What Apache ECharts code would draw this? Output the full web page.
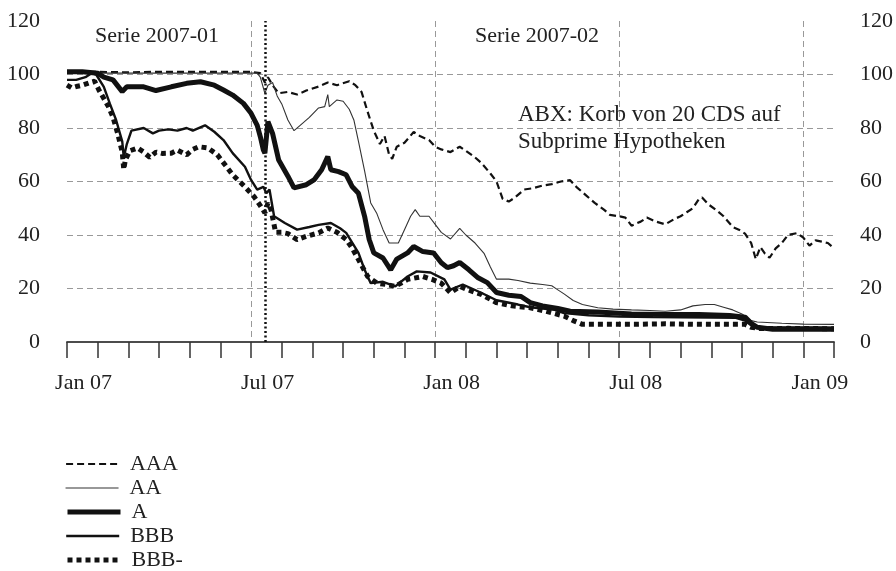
<!DOCTYPE html>
<html>
<head>
<meta charset="utf-8">
<script src="https://cdn.jsdelivr.net/npm/echarts@6/dist/echarts.min.js"></script>
<style>
html,body{margin:0;padding:0;background:#fff;}
#chart{width:896px;height:571px;}
</style>
</head>
<body>
<div id="chart"></div>
<script>
// x = months since Jan 2007 (0 = Jan 07, 25 = Feb 09)
const tickMonths = [0, 6, 12, 18, 24];
const tickLabels = ['Jan 07', 'Jul 07', 'Jan 08', 'Jul 08', 'Jan 09'];
const seriesNames = ['AAA', 'AA', 'A', 'BBB', 'BBB-'];
const seriesStartMonth = 6.47; // Serie 2007-02 start (dotted line)

const dataAAA = [[0,101],[1,101],[2,100.8],[3,101],[4,101],[5,101],[6,101],[6.3,100.5],[6.45,97],[6.55,99],[6.7,96],[6.9,93],[7.2,93.5],[7.5,92.5],[7.8,94],[8.2,95.5],[8.5,97],[8.8,96],[9.2,97.5],[9.4,96],[9.6,93.5],[9.8,86],[10.0,79],[10.2,74],[10.35,77],[10.5,70],[10.6,68.5],[10.75,73],[11.0,74.5],[11.3,78.5],[11.5,77],[11.8,75.5],[12.0,73],[12.2,72],[12.5,71],[12.8,73],[13.0,71.5],[13.3,69],[13.5,67],[13.8,63],[14.0,60],[14.2,53.5],[14.4,52.5],[14.6,54],[14.9,57],[15.2,57.5],[15.5,58.5],[15.8,59],[16.1,60],[16.4,60.5],[16.6,58],[16.9,55],[17.2,52],[17.5,49.5],[17.7,47.5],[18.0,47],[18.2,46.5],[18.4,43.5],[18.7,45],[18.9,46.5],[19.2,45],[19.5,44],[19.8,46],[20.0,47],[20.2,48.5],[20.4,50],[20.6,53.5],[20.7,54],[20.9,51.5],[21.2,49],[21.4,47],[21.7,43],[21.9,42],[22.1,40.5],[22.3,37],[22.45,31],[22.6,35.5],[22.75,33],[22.9,31.5],[23.1,35],[23.3,37],[23.5,40],[23.8,40.7],[24.0,39],[24.2,36],[24.4,38],[24.6,37.5],[24.8,37],[25,35]];

const dataAA = [[0,100.5],[3,100.5],[6.2,100.5],[6.3,99],[6.45,93],[6.55,96],[6.7,97],[6.85,92],[7.0,89],[7.2,83],[7.4,79],[7.6,81],[7.9,84],[8.2,87.5],[8.4,88],[8.5,92.5],[8.55,88],[8.8,90.5],[9.0,90],[9.2,87],[9.35,83],[9.5,75],[9.7,64],[9.9,52],[10.1,48],[10.3,42],[10.5,37],[10.8,37],[11.0,42],[11.2,47],[11.35,49.5],[11.5,47],[11.8,47],[12.0,44],[12.2,41],[12.5,38.5],[12.8,42.5],[13.0,40],[13.3,37],[13.6,33],[13.8,28],[14.0,23.5],[14.4,23.5],[14.7,23],[15.1,22],[15.5,21.5],[15.8,21],[16.0,19.5],[16.2,18],[16.5,15.5],[16.8,14],[17.3,12.8],[17.8,12.3],[18.4,12],[19.0,11.8],[19.5,11.5],[20.0,12],[20.4,13.5],[20.8,14],[21.1,14],[21.4,13],[21.7,12],[22.0,10.5],[22.3,8],[22.5,7.5],[23.3,7],[24,6.7],[25,6.6]];

const dataA = [[0,101],[0.5,101],[1.0,100.5],[1.2,99],[1.5,98],[1.8,93.6],[1.95,95.4],[2.5,95.4],[2.9,94],[3.4,95.4],[3.9,96.7],[4.35,97.3],[4.8,96],[5.1,94.2],[5.4,92.3],[5.75,89.2],[6.0,85.5],[6.2,81],[6.3,76.8],[6.4,71.8],[6.45,70.6],[6.55,82.4],[6.7,78],[6.9,68],[7.2,62],[7.4,57.6],[7.8,58.8],[8.05,60.6],[8.3,64.4],[8.5,69.3],[8.6,64.4],[8.85,63.7],[9.1,62.5],[9.3,58],[9.5,55.6],[9.7,47],[9.85,38.3],[10.0,33.3],[10.3,31.4],[10.55,27],[10.75,31],[11.1,33.3],[11.3,35.7],[11.6,33.8],[11.95,33.3],[12.2,29.6],[12.4,27.8],[12.6,28.5],[12.8,29.7],[13.1,27],[13.4,24],[13.7,22.2],[14.0,18.5],[14.4,17.5],[14.8,17],[15.1,14.7],[15.5,13.5],[16.0,12.5],[16.4,11.5],[17.3,11.2],[18.4,10.5],[19.5,10.3],[20.6,10.3],[21.6,9.9],[22.1,9.3],[22.3,7],[22.5,5.5],[23,4.8],[24,4.8],[25,4.8]];

const dataBBB = [[0,98],[0.3,98],[0.6,99],[0.8,100.5],[0.95,100],[1.2,95.4],[1.4,89],[1.6,83],[1.8,75],[1.85,69],[1.95,74],[2.1,79],[2.5,80],[2.8,78],[3.0,79],[3.3,79.5],[3.6,79],[3.9,80],[4.1,79],[4.5,81],[4.8,78.6],[5.1,75.5],[5.4,70.6],[5.8,65.5],[6.0,60.6],[6.2,57],[6.4,58],[6.5,55.6],[6.6,57],[6.75,47],[7.1,44.5],[7.5,42],[7.9,43],[8.2,43.8],[8.6,44.5],[8.9,42.5],[9.1,40.8],[9.5,33.3],[9.7,27],[9.9,22],[10.3,22.5],[10.7,20.8],[11.1,24.5],[11.4,26.4],[11.85,26],[12.3,23.4],[12.5,19.6],[12.9,21.5],[13.5,18.4],[14.0,15.6],[14.7,14],[15.1,13],[15.9,12],[16.2,10.8],[17.0,10],[18.0,9.5],[19.1,9.3],[20.0,9.2],[21.0,9.1],[21.8,9],[22.1,8],[22.3,6.2],[22.6,5.5],[23.5,5.4],[24.5,5.4],[25,5.3]];

const dataBBBminus = [[0,96],[0.15,95],[0.3,95.5],[0.5,96],[0.75,97],[0.9,97.5],[1.05,94],[1.2,91],[1.35,88],[1.5,84],[1.65,78],[1.8,71],[1.85,64.5],[1.9,68],[2.05,71.5],[2.3,72.5],[2.5,71],[2.7,69],[2.9,71],[3.1,70.5],[3.4,70.6],[3.6,71.7],[3.9,70],[4.1,72],[4.3,73],[4.6,72.5],[4.9,70],[5.2,65.5],[5.4,62.5],[5.8,58],[6.1,54.3],[6.3,51],[6.45,48.3],[6.55,52],[6.65,49.4],[6.8,41],[7.0,41],[7.2,40.5],[7.5,38.3],[7.8,39.5],[8.2,40.8],[8.5,42.6],[8.8,41],[9.1,38.3],[9.3,35],[9.5,30.8],[9.8,24.5],[10.1,22],[10.4,21.5],[10.7,20.8],[11.1,23.4],[11.6,24.5],[11.9,23.4],[12.2,22],[12.4,19.6],[12.5,18.4],[12.8,20.8],[13.0,19.8],[13.5,17.8],[14.0,14.7],[14.5,13.5],[15.1,12.8],[15.6,11.5],[16.2,9.7],[16.5,8],[16.8,6.6],[17.5,6.6],[18.5,6.6],[19.5,6.8],[20.5,6.6],[21.5,6.6],[22.1,6.6],[22.3,5.5],[22.6,5],[23.5,5.1],[24.5,5],[25,5]];

const FONT = 'Liberation Serif';
const TXT = '#222';

// line styles per series (AAA, AA, A, BBB, BBB-)
const lineStyles = [
  { color: '#111', width: 2.2, type: [7, 4], cap: 'butt' },
  { color: '#333', width: 1.1, type: 'solid' },
  { color: '#111', width: 5, type: 'solid' },
  { color: '#111', width: 2.4, type: 'solid' },
  { color: '#111', width: 5, type: [5, 4], cap: 'butt' }
];
const seriesData = [dataAAA, dataAA, dataA, dataBBB, dataBBBminus];
const zLevels = [3, 4, 5, 4, 3];

const legends = seriesNames.map(function (name, i) {
  return {
    orient: 'vertical', left: 60, top: 448 + i * 24,
    itemWidth: 53, itemHeight: 12, itemGap: 0,
    data: [name],
    itemStyle: { opacity: 0 },
    lineStyle: { width: lineStyles[i].width, type: lineStyles[i].type, color: lineStyles[i].color, cap: 'butt' },
    textStyle: { fontFamily: FONT, fontSize: 22, color: TXT, padding: [0, 0, 0, 6] }
  };
});

const series = seriesNames.map(function (name, i) {
  const s = {
    name: name, type: 'line', data: seriesData[i], symbol: 'none', z: zLevels[i],
    itemStyle: { color: lineStyles[i].color },
    lineStyle: lineStyles[i]
  };
  if (name === 'BBB-') {
    s.markLine = {
      silent: true, symbol: 'none', label: { show: false },
      lineStyle: { color: '#111', width: 2.5, type: [2, 2.5] },
      data: [{ xAxis: seriesStartMonth }]
    };
  }
  return s;
});

const chart = echarts.init(document.getElementById('chart'));
const option = {
  animation: false,
  backgroundColor: '#fff',
  grid: { left: 67, right: 62, top: 21, bottom: 229, containLabel: false },
  xAxis: [
    {
      type: 'value', min: 0, max: 25, interval: 1, position: 'bottom',
      axisLine: { show: true, lineStyle: { color: '#333', width: 1.5 } },
      axisTick: { show: true, length: 16, lineStyle: { color: '#333', width: 1.5 } },
      axisLabel: {
        showMinLabel: true, showMaxLabel: true,
        fontFamily: FONT, fontSize: 22, color: TXT, margin: 30,
        padding: [0, 0, 0, 33],
        formatter: function (v) {
          const i = tickMonths.indexOf(Math.round(v));
          return (i >= 0 && Math.abs(v - tickMonths[i]) < 1e-6) ? tickLabels[i] : '';
        }
      },
      splitLine: { show: false }
    },
    {
      type: 'value', min: 0, max: 25, interval: 6, position: 'top',
      axisLine: { show: true, lineStyle: { color: '#444', width: 1.5 } },
      axisTick: { show: false }, axisLabel: { show: false },
      splitLine: { show: true, showMinLine: false, showMaxLine: false,
        lineStyle: { color: '#999', type: [6, 4], width: 1 } }
    }
  ],
  yAxis: [
    {
      type: 'value', min: 0, max: 120, interval: 20, position: 'left',
      axisLine: { show: false }, axisTick: { show: false },
      axisLabel: { fontFamily: FONT, fontSize: 22, color: TXT, margin: 27 },
      splitLine: { show: true, showMinLine: false, showMaxLine: false,
        lineStyle: { color: '#999', type: [6, 4], width: 1 } }
    },
    {
      type: 'value', min: 0, max: 120, interval: 20, position: 'right',
      axisLine: { show: false }, axisTick: { show: false },
      axisLabel: { fontFamily: FONT, fontSize: 22, color: TXT, margin: 26 },
      splitLine: { show: false }
    }
  ],
  legend: legends,
  graphic: [
    { type: 'text', x: 95, y: 36, style: { text: 'Serie 2007-01', font: '22px "Liberation Serif"', fill: TXT, verticalAlign: 'middle', textVerticalAlign: 'middle' } },
    { type: 'text', x: 475, y: 36, style: { text: 'Serie 2007-02', font: '22px "Liberation Serif"', fill: TXT, verticalAlign: 'middle', textVerticalAlign: 'middle' } },
    { type: 'text', x: 518, y: 115, style: { text: 'ABX: Korb von 20 CDS auf', font: '23px "Liberation Serif"', fill: TXT, verticalAlign: 'middle', textVerticalAlign: 'middle' } },
    { type: 'text', x: 518, y: 142, style: { text: 'Subprime Hypotheken', font: '23px "Liberation Serif"', fill: TXT, verticalAlign: 'middle', textVerticalAlign: 'middle' } }
  ],
  series: series
};
chart.setOption(option);
</script>
</body>
</html>
